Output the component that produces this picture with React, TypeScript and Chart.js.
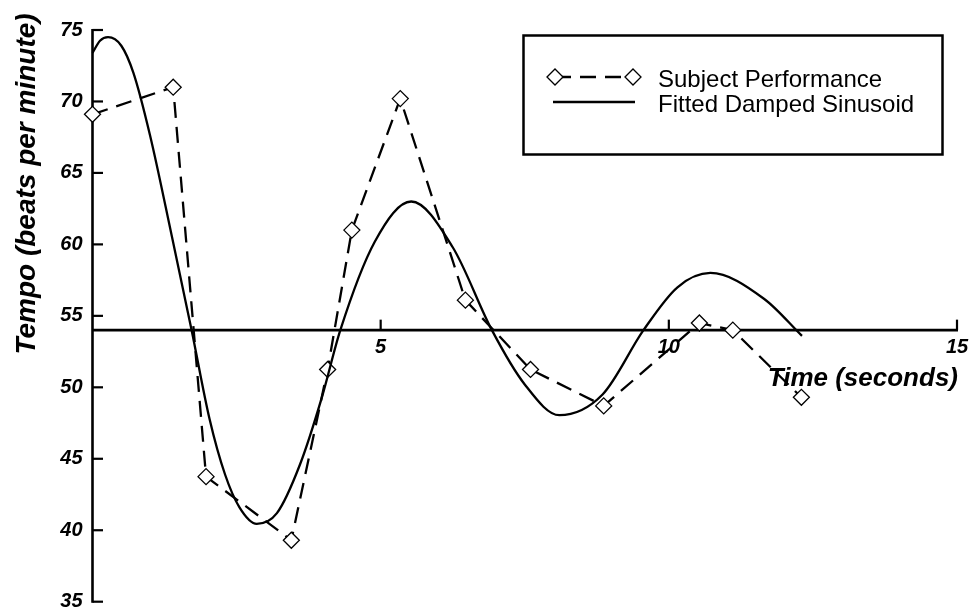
import React, { useEffect, useRef } from "react";
import { Chart, registerables } from "chart.js";

Chart.register(...registerables);

// Subject performance (diamonds, dashed)
const PERF_TIME = [0, 1.40, 1.97, 3.45, 4.08, 4.50, 5.34, 6.47, 7.60, 8.87, 10.53, 11.11, 12.30];
const PERF_TEMPO = [69.1, 71.0, 43.75, 39.3, 51.25, 61.0, 70.2, 56.1, 51.25, 48.7, 54.5, 54.0, 49.3];

// Fitted damped sinusoid (solid)
const FIT_TIME = [0, 0.13, 0.27, 0.5, 0.71, 1.0, 1.375, 1.72, 2.03, 2.3, 2.55, 2.85, 3.2, 3.6, 3.98, 4.30, 4.9, 5.53, 6.25, 6.93, 7.5, 8.1, 8.85, 9.56, 10.15, 10.72, 11.65, 12.31];
const FIT_TEMPO = [73.4, 74.25, 74.5, 73.9, 72.0, 67.6, 60.6, 54.0, 47.8, 43.9, 41.6, 40.45, 41.2, 44.6, 49.3, 54.0, 60.2, 63.0, 59.8, 54.0, 50.2, 48.05, 49.5, 54.0, 57.0, 58.0, 56.2, 53.6];

const X_TICKS = [5, 10, 15];
const Y_TICKS = [35, 40, 45, 50, 55, 60, 65, 70, 75];
const X_AXIS_AT = 54;

const SERIES_LABELS = ["Subject Performance", "Fitted Damped Sinusoid"];
const X_TITLE = "Time (seconds)";
const Y_TITLE = "Tempo (beats per minute)";

const FONT = "'Liberation Sans', Arial, Helvetica, sans-serif";

const decorPlugin = {
  id: "decor",
  beforeDatasetsDraw(chart: any) {
    const { ctx } = chart;
    const xs = chart.scales.x;
    const ys = chart.scales.y;
    const x0 = xs.getPixelForValue(0);
    const y0 = ys.getPixelForValue(X_AXIS_AT);
    ctx.save();
    ctx.strokeStyle = "#000";
    ctx.lineCap = "butt";
    ctx.lineWidth = 2.6;
    ctx.beginPath();
    ctx.moveTo(x0, ys.getPixelForValue(75) - 1);
    ctx.lineTo(x0, ys.getPixelForValue(35) + 1);
    ctx.stroke();
    ctx.beginPath();
    ctx.moveTo(x0, y0);
    ctx.lineTo(xs.getPixelForValue(15) + 1, y0);
    ctx.stroke();
    ctx.lineWidth = 2.2;
    Y_TICKS.forEach((v) => {
      const py = ys.getPixelForValue(v);
      ctx.beginPath();
      ctx.moveTo(x0, py);
      ctx.lineTo(x0 + 10.5, py);
      ctx.stroke();
    });
    X_TICKS.forEach((v) => {
      const px = xs.getPixelForValue(v);
      ctx.beginPath();
      ctx.moveTo(px, y0);
      ctx.lineTo(px, y0 - 10.5);
      ctx.stroke();
    });
    ctx.fillStyle = "#000";
    ctx.font = `italic bold 26px ${FONT}`;
    ctx.textAlign = "right";
    ctx.textBaseline = "alphabetic";
    ctx.fillText(X_TITLE, 958, 386);
    ctx.save();
    ctx.translate(35, 184);
    ctx.rotate(-Math.PI / 2);
    ctx.font = `italic bold 28px ${FONT}`;
    ctx.textAlign = "center";
    ctx.fillText(Y_TITLE, 0, 0);
    ctx.restore();
    ctx.restore();
  },
  afterDraw(chart: any) {
    const { ctx } = chart;
    ctx.save();
    ctx.strokeStyle = "#000";
    ctx.lineWidth = 2.5;
    ctx.strokeRect(523.5, 35.5, 419, 119);
    const r1 = 77;
    ctx.lineWidth = 2.3;
    ctx.setLineDash([16, 9]);
    ctx.beginPath();
    ctx.moveTo(555, r1);
    ctx.lineTo(633, r1);
    ctx.stroke();
    ctx.setLineDash([]);
    [555, 633].forEach((cx) => {
      ctx.beginPath();
      ctx.moveTo(cx - 8, r1);
      ctx.lineTo(cx, r1 - 8);
      ctx.lineTo(cx + 8, r1);
      ctx.lineTo(cx, r1 + 8);
      ctx.closePath();
      ctx.fillStyle = "#fff";
      ctx.fill();
      ctx.lineWidth = 1.3;
      ctx.stroke();
    });
    const r2 = 102;
    ctx.lineWidth = 2.3;
    ctx.beginPath();
    ctx.moveTo(553, r2);
    ctx.lineTo(635, r2);
    ctx.stroke();
    ctx.fillStyle = "#000";
    ctx.font = `24px ${FONT}`;
    ctx.textAlign = "left";
    ctx.textBaseline = "alphabetic";
    ctx.fillText(SERIES_LABELS[0], 658, 86.5);
    ctx.fillText(SERIES_LABELS[1], 658, 111.5);
    ctx.restore();
  },
};

export default function App() {
  const ref = useRef<HTMLCanvasElement | null>(null);
  useEffect(() => {
    document.body.style.margin = "0";
    const canvas = ref.current;
    if (!canvas) return;
    const perf = PERF_TIME.map((t, i) => ({ x: t, y: PERF_TEMPO[i] }));
    const fit = FIT_TIME.map((t, i) => ({ x: t, y: FIT_TEMPO[i] }));
    const tickFont = { family: FONT, size: 20, style: "italic" as const, weight: "bold" as const };
    const chart = new Chart(canvas, {
      type: "line",
      data: {
        datasets: [
          {
            label: SERIES_LABELS[1],
            data: fit,
            borderColor: "#000",
            borderWidth: 2.3,
            pointRadius: 0,
            cubicInterpolationMode: "monotone",
            fill: false,
            clip: false as any,
          },
          {
            label: SERIES_LABELS[0],
            data: perf,
            borderColor: "#000",
            borderWidth: 2.3,
            borderDash: [16, 9],
            tension: 0,
            pointStyle: "rectRot",
            pointRadius: 8,
            pointBorderWidth: 1.3,
            pointBackgroundColor: "#fff",
            pointBorderColor: "#000",
            fill: false,
            clip: false as any,
          },
        ],
      },
      options: {
        responsive: false,
        animation: false,
        devicePixelRatio: 1,
        layout: { padding: { left: 0, top: 30, right: 12, bottom: 5 } },
        plugins: { legend: { display: false }, tooltip: { enabled: false } },
        scales: {
          x: {
            type: "linear",
            min: 0,
            max: 15,
            position: { y: X_AXIS_AT } as any,
            grid: { display: false, drawTicks: false },
            border: { display: false },
            afterBuildTicks: (s: any) => {
              s.ticks = [0, ...X_TICKS].map((v) => ({ value: v }));
            },
            ticks: {
              padding: 5,
              color: "#000",
              font: tickFont,
              maxRotation: 0,
              callback: (v: any) => (X_TICKS.includes(Number(v)) ? String(v) : ""),
            },
            afterFit: (s: any) => {
              s.paddingLeft = 0;
              s.paddingRight = 0;
            },
          },
          y: {
            type: "linear",
            min: 35,
            max: 75,
            position: "left",
            grid: { display: false, drawTicks: false },
            border: { display: false },
            afterBuildTicks: (s: any) => {
              s.ticks = Y_TICKS.map((v) => ({ value: v }));
            },
            ticks: {
              padding: 10,
              color: "#000",
              font: tickFont,
              callback: (v: any) => String(v),
            },
            afterFit: (s: any) => {
              s.width = 92.5;
              s.paddingTop = 0;
              s.paddingBottom = 0;
            },
          },
        },
      },
      plugins: [decorPlugin],
    });
    return () => chart.destroy();
  }, []);
  return (
    <div style={{ position: "absolute", left: 0, top: 0, width: 969, height: 611, background: "#fff" }}>
      <canvas ref={ref} width={969} height={611} />
    </div>
  );
}
